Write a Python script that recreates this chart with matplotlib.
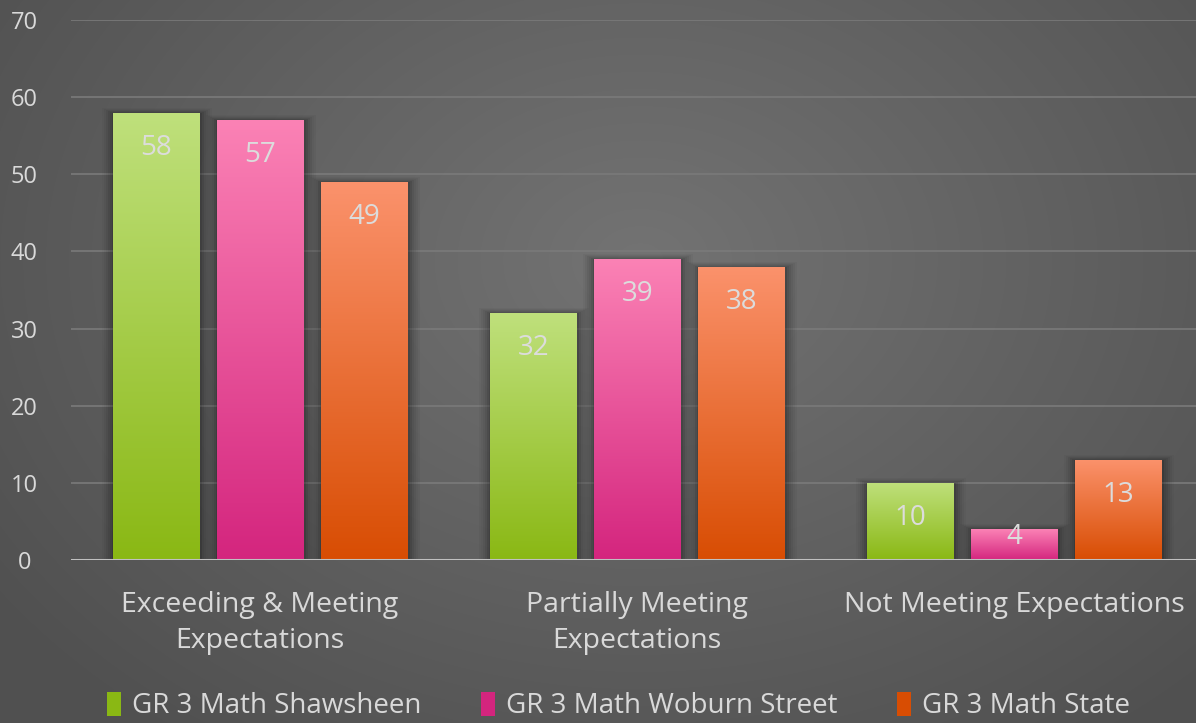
import numpy as np
import matplotlib
matplotlib.use("Agg")
import matplotlib.pyplot as plt
from matplotlib.colors import LinearSegmentedColormap
from matplotlib.patches import Rectangle, Patch

categories = ["Exceeding & Meeting\nExpectations", "Partially Meeting\nExpectations", "Not Meeting Expectations"]
series_names = ["GR 3 Math Shawsheen", "GR 3 Math Woburn Street", "GR 3 Math State"]
shawsheen = [58, 32, 10]
woburn = [57, 39, 4]
state = [49, 38, 13]
yticks = [0, 10, 20, 30, 40, 50, 60, 70]

series = [shawsheen, woburn, state]
grad = [("#bfe07c", "#8ab814"), ("#fb82b5", "#d4257e"), ("#fb926c", "#d84d03")]

plt.rcParams['font.family'] = ['Open Sans', 'DejaVu Sans']
W, H = 1196, 723
fig = plt.figure(figsize=(W / 100, H / 100), dpi=100)

# background radial gradient
bg = fig.add_axes([0, 0, 1, 1])
yy, xx = np.mgrid[0:H, 0:W]
r = np.sqrt(((xx - 640) / 800.0) ** 2 + ((yy - 260) / 600.0) ** 2)
r = np.clip(r, 0, 1)
c0 = np.array([0x73, 0x73, 0x73]) / 255
c1 = np.array([0x50, 0x50, 0x50]) / 255
img = c0[None, None, :] * (1 - r[..., None]) + c1[None, None, :] * r[..., None]
bg.imshow(img, aspect='auto', extent=[0, 1, 0, 1], origin='upper')
bg.axis('off')

AXW = 1131.7
ax = fig.add_axes([71.4 / W, 163 / H, AXW / W, 540 / H])
ax.set_facecolor('none')
ax.set_xlim(-0.5, 2.5)
ax.set_ylim(0, 70)

x = np.arange(len(categories))
bw = 0.228
step = 0.2757
px_x = 3.0 / AXW  # data units per pixel in x
px_y = 70.0 / 540

for i, (vals, (ct, cb)) in enumerate(zip(series, grad)):
    xs = x + (i - 1) * step
    bars = ax.bar(xs, vals, width=bw, color='none', zorder=3, label=series_names[i])
    cmap = LinearSegmentedColormap.from_list('g%d' % i, [cb, ct])
    for b, v in zip(bars, vals):
        x0, w, h = b.get_x(), b.get_width(), b.get_height()
        # soft shadow
        for k, a in enumerate([0.10, 0.08, 0.06, 0.05, 0.04, 0.03]):
            s = (k + 1) * 2.0
            ax.add_patch(Rectangle((x0 - s * px_x + 1 * px_x, 0), w + 2 * s * px_x, h + s * px_y * 0.5 - 1 * px_y,
                                   facecolor='black', alpha=a, edgecolor='none', zorder=2))
        grd = np.linspace(0, 1, 256).reshape(-1, 1)
        im = ax.imshow(grd, cmap=cmap, aspect='auto', extent=[x0, x0 + w, 0, h],
                       origin='lower', zorder=3, interpolation='bicubic')
        im.set_clip_path(b)
        ty = h - 35 * px_y
        if ty < 3:
            ty = 0.75 * h
        ax.text(x0 + w / 2, ty, str(v), ha='center', va='center',
                fontsize=20, color='#dcdcdc', zorder=5)

ax.set_xlim(-0.5, 2.5)
ax.set_ylim(0, 70)
ax.set_yticks(yticks)
ax.set_yticklabels([str(t) for t in yticks])
ax.set_xticks(x)
ax.set_xticklabels(categories, linespacing=1.42)
for sp in ax.spines.values():
    sp.set_visible(False)
ax.tick_params(axis='both', length=0, colors='#d9d9d9')
ax.tick_params(axis='y', labelsize=17, pad=34)
ax.tick_params(axis='x', labelsize=20.5, pad=22)
for lbl in ax.get_yticklabels():
    lbl.set_horizontalalignment('center')
ax.yaxis.grid(True, color='#7a7a7a', linewidth=1.2, zorder=0)
ax.set_axisbelow(True)
ax.axhline(0, color='#c0c0c0', linewidth=2.2, zorder=4)

handles = [Patch(facecolor=cb, edgecolor='none') for ct, cb in grad]
leg = fig.legend(handles, series_names, loc='lower center', bbox_to_anchor=(0.517, -0.031), ncol=3,
                 frameon=False, fontsize=20, handlelength=0.5, handleheight=0.95, handletextpad=0.4,
                 columnspacing=2.15, labelcolor='#d9d9d9')

fig.savefig('out.png', dpi=100)
